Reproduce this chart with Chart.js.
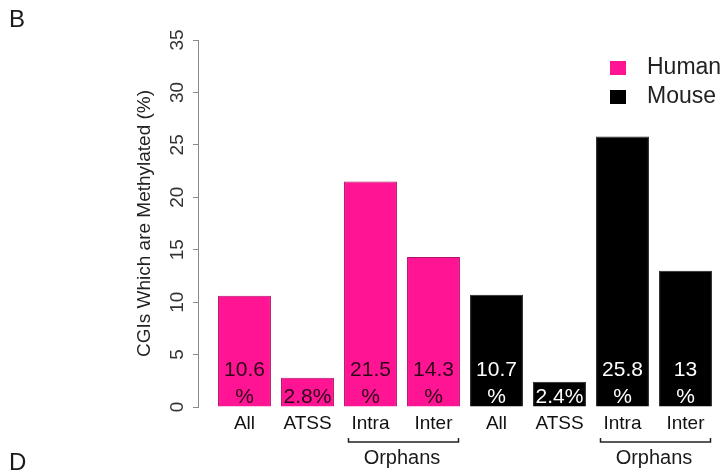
<!DOCTYPE html>
<html><head><meta charset="utf-8">
<script src="https://cdn.jsdelivr.net/npm/chart.js@4/dist/chart.umd.min.js"></script>
<style>
html,body{margin:0;padding:0;background:#fff;}
#wrap{position:relative;width:726px;height:471px;overflow:hidden;background:#fff;}
canvas{position:absolute;left:0;top:0;}
.panel{position:absolute;font-family:"Liberation Sans",Arial,sans-serif;font-size:24px;line-height:24px;color:#1a1a1a;}
</style></head><body>
<div id="wrap">
<canvas id="c" width="726" height="471"></canvas>
<div class="panel" style="left:9px;top:7px">B</div>
<div class="panel" style="left:9px;top:450px">D</div>
</div>
<script>
const categories = ['All', 'ATSS', 'Intra', 'Inter', 'All', 'ATSS', 'Intra', 'Inter'];
const humanValues = [10.6, 2.8, 21.5, 14.3];
const mouseValues = [10.7, 2.4, 25.8, 13];
const seriesNames = ['Human', 'Mouse'];
const yTicks = [0, 5, 10, 15, 20, 25, 30, 35];
const groupLabel = 'Orphans';
const orphanGroups = [[2, 3], [6, 7]];
const yTitle = 'CGIs Which are Methylated (%)';

const FAM = '"Liberation Sans", Arial, Helvetica, sans-serif';

const valueLabels = {
  id: 'valueLabels',
  afterDatasetsDraw(chart) {
    const ctx = chart.ctx;
    const y0 = chart.scales.y.getPixelForValue(0);
    chart.data.datasets.forEach((ds, di) => {
      const meta = chart.getDatasetMeta(di);
      meta.data.forEach((bar, i) => {
        const v = ds.data[i].y;
        const lines = v >= 5 ? [String(v), '%'] : [v + '%'];
        ctx.save();
        ctx.font = '21px ' + FAM;
        ctx.fillStyle = ds.labelColor;
        ctx.textAlign = 'center';
        ctx.textBaseline = 'middle';
        lines.forEach((t, k) => {
          ctx.fillText(t, bar.x, y0 - 10 - (lines.length - 1 - k) * 27);
        });
        ctx.restore();
      });
    });
  }
};

const groupBrackets = {
  id: 'groupBrackets',
  afterDraw(chart) {
    const ctx = chart.ctx;
    const xs = chart.scales.x;
    const yb = chart.scales.y.getPixelForValue(0) + 35;
    ctx.save();
    ctx.strokeStyle = '#222';
    ctx.lineWidth = 1.5;
    ctx.fillStyle = '#1a1a1a';
    ctx.font = '20px ' + FAM;
    ctx.textAlign = 'center';
    ctx.textBaseline = 'middle';
    orphanGroups.forEach(([a, b]) => {
      const xa = xs.getPixelForValue(a), xb = xs.getPixelForValue(b);
      const x1 = xa - 22, x2 = xb + 25;
      ctx.beginPath();
      ctx.moveTo(x1, yb - 4);
      ctx.lineTo(x1, yb);
      ctx.lineTo(x2, yb);
      ctx.lineTo(x2, yb - 4);
      ctx.stroke();
      ctx.fillText(groupLabel, (xa + xb) / 2, yb + 16);
    });
    ctx.restore();
  }
};

const customLegend = {
  id: 'customLegend',
  afterDraw(chart) {
    const ctx = chart.ctx;
    const ca = chart.chartArea;
    ctx.save();
    chart.data.datasets.forEach((ds, i) => {
      const cy = ca.top + 28 + i * 29;
      ctx.fillStyle = ds.backgroundColor;
      ctx.fillRect(ca.right - 107, cy - 7, 16, 14);
      ctx.fillStyle = '#222';
      ctx.font = '23px ' + FAM;
      ctx.textAlign = 'left';
      ctx.textBaseline = 'middle';
      ctx.fillText(ds.label, ca.right - 70, cy);
    });
    ctx.restore();
  }
};

new Chart(document.getElementById('c'), {
  type: 'bar',
  data: {
    datasets: [
      {
        label: seriesNames[0],
        data: humanValues.map((v, i) => ({ x: i, y: v })),
        backgroundColor: '#FF1493',
        borderColor: '#B0106A',
        borderWidth: 1,
        labelColor: '#2a0718'
      },
      {
        label: seriesNames[1],
        data: mouseValues.map((v, i) => ({ x: i + humanValues.length, y: v })),
        backgroundColor: '#000000',
        borderColor: '#222222',
        borderWidth: 1,
        labelColor: '#ffffff'
      }
    ]
  },
  options: {
    responsive: false,
    animation: false,
    devicePixelRatio: 1,
    grouped: false,
    barPercentage: 0.84,
    categoryPercentage: 1,
    layout: { padding: { left: 0, right: 9, top: 40, bottom: 0 } },
    plugins: { legend: { display: false }, tooltip: { enabled: false } },
    scales: {
      x: {
        type: 'linear',
        offset: false,
        bounds: 'data',
        min: -0.738,
        max: 7.5,
        afterBuildTicks: s => { s.ticks = categories.map((c, i) => ({ value: i })); },
        afterFit: s => { s.height = 64; },
        grid: { display: false, drawTicks: false, offset: false },
        border: { display: false },
        ticks: {
          autoSkip: false, minRotation: 0, maxRotation: 0, padding: 5,
          font: { size: 19, family: FAM }, color: '#111',
          callback: v => categories[v]
        }
      },
      y: {
        min: 0,
        max: 35,
        afterBuildTicks: s => { s.ticks = yTicks.map(v => ({ value: v })); },
        afterFit: s => { s.width = 198; },
        grid: { drawOnChartArea: false, tickLength: 5, color: '#8a8a8a', lineWidth: 1 },
        border: { color: '#8a8a8a', width: 1 },
        ticks: {
          minRotation: 90, maxRotation: 90, crossAlign: 'center', padding: 5,
          font: { size: 19, family: FAM }, color: '#333'
        },
        title: {
          display: true, text: yTitle,
          font: { size: 19, family: FAM }, color: '#222',
          padding: { top: 133, bottom: 0 }
        }
      }
    }
  },
  plugins: [valueLabels, groupBrackets, customLegend]
});
</script>
</body></html>
